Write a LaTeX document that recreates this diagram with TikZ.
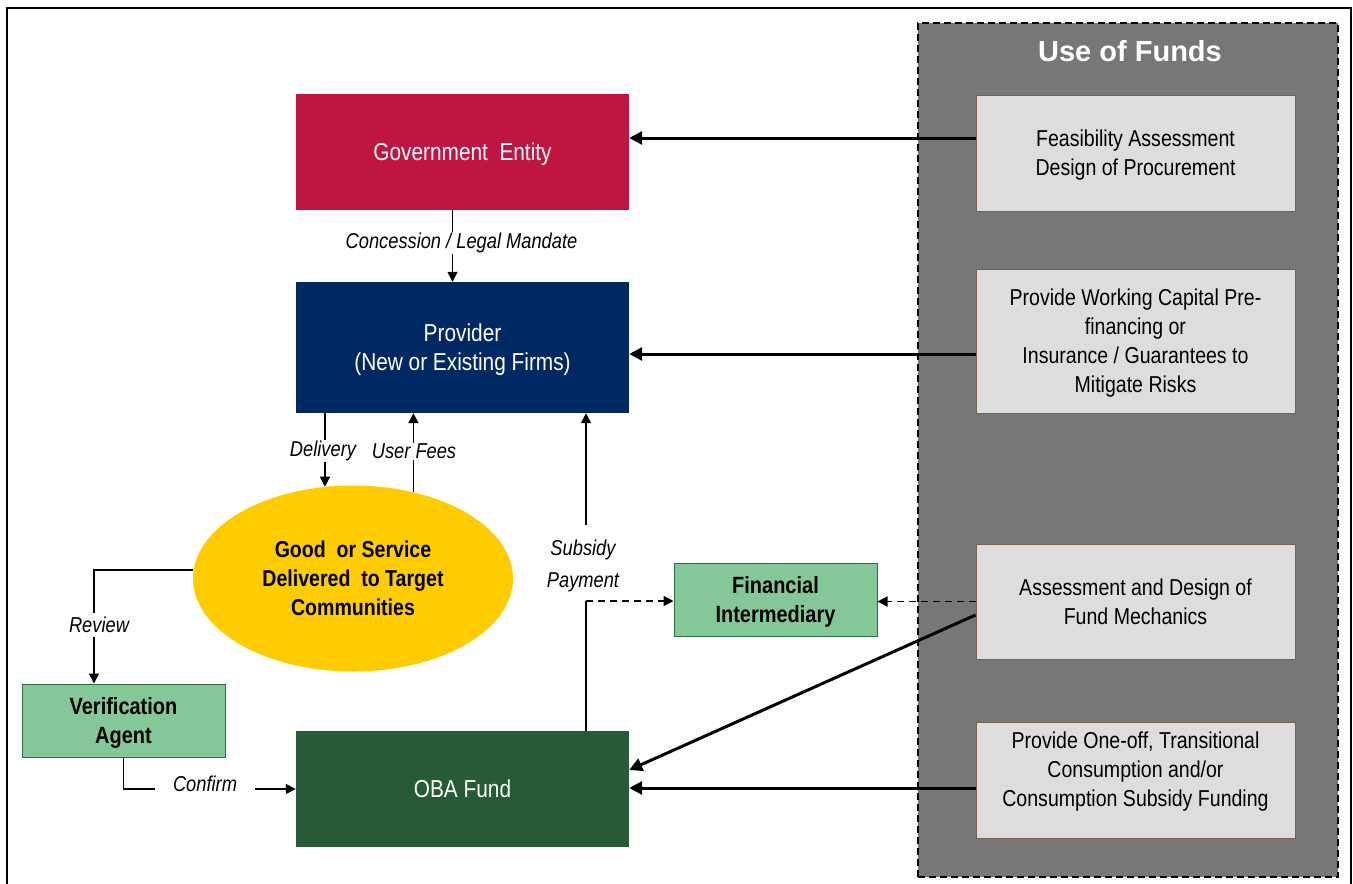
\documentclass[tikz,border=0pt]{standalone}
\usepackage{fontspec}
\setmainfont{Liberation Sans}[FakeStretch=0.85]
\newfontfamily\titlefont{Liberation Sans}
\usetikzlibrary{arrows.meta,shapes.geometric}
\definecolor{govred}{HTML}{BE1640}
\definecolor{navy}{HTML}{002863}
\definecolor{obagreen}{HTML}{275A37}
\definecolor{gold}{HTML}{FFCC00}
\definecolor{lgreen}{HTML}{84C899}
\definecolor{lgreenb}{HTML}{2E6B40}
\definecolor{panelgray}{HTML}{777777}
\definecolor{boxgray}{HTML}{DDDDDD}
\definecolor{boxedge}{HTML}{736445}
\tikzset{
  solidbox/.style={font=\fontsize{24.5}{29}\selectfont, text=white, inner sep=0pt, align=center, minimum width=333pt, text depth=0pt},
  gbox/.style={font=\bfseries\fontsize{23.5}{29}\selectfont, draw=lgreenb, line width=1pt, fill=lgreen, inner sep=0pt, align=center, minimum width=203pt, minimum height=73pt, text depth=0pt},
  fbox/.style={font=\fontsize{23}{29}\selectfont, draw=boxedge, line width=1pt, fill=boxgray, inner sep=0pt, align=center, minimum width=319pt, text depth=0pt},
  lbl/.style={font=\itshape\fontsize{21.5}{32}\selectfont, fill=white, inner sep=1pt, align=center},
  longdash/.style={dash pattern=on 7pt off 5pt},
  thin/.style={line width=1.5pt, -{Triangle[length=10pt,width=10pt]}},
  thickarr/.style={line width=3pt, -{Triangle[length=13pt,width=13pt]}},
}
\begin{document}
\begin{tikzpicture}[x=1pt,y=-1pt]
\useasboundingbox (0,0) rectangle (1353,884);
\fill[white] (0,0) rectangle (1353,884);
% outer frame
\draw[line width=2pt] (7,884) -- (7,8) -- (1351,8) -- (1351,884);
% panel
\node[draw=black, dash pattern=on 7pt off 4pt, line width=1.5pt, fill=panelgray, minimum width=420pt, minimum height=854pt, inner sep=0pt] (panel) at (1128,450) {};
\node[font=\titlefont\bfseries\fontsize{29}{32}\selectfont, text=white] (title) at (1130,51) {Use of Funds};
\node[fbox, minimum height=116pt] (f1) at (1135.5,153) {Feasibility Assessment\\Design of Procurement};
\node[fbox, minimum height=144pt] (f2) at (1135.5,341) {Provide Working Capital Pre-\\financing or\\Insurance / Guarantees to\\Mitigate Risks};
\node[fbox, minimum height=115pt] (f3) at (1135.5,601.5) {Assessment and Design of\\Fund Mechanics};
\node[fbox, minimum height=116pt, text depth=22pt] (f4) at (1135.5,780) {Provide One-off, Transitional\\Consumption and/or\\Consumption Subsidy Funding};
% main boxes
\node[solidbox, fill=govred, minimum height=116pt] (gov) at (462.5,152) {Government\ \ Entity};
\node[solidbox, fill=navy, minimum height=131pt] (prov) at (462.5,347.5) {Provider\\(New or Existing Firms)};
\node[solidbox, fill=obagreen, minimum height=116pt] (oba) at (462.5,789) {OBA Fund};
\node[ellipse, fill=gold, minimum width=320pt, minimum height=186pt, inner sep=0pt, align=center, text depth=0pt, font=\bfseries\fontsize{23}{29}\selectfont] (good) at (353,578.5) {Good\ \ or Service\\Delivered\ \ to Target\\Communities};
\node[gbox] (va) at (123.5,720.5) {Verification\\Agent};
\node[gbox] (fi) at (775.5,599.5) {Financial\\Intermediary};
% thick arrows from panel
\draw[thickarr] ([yshift=15pt]f1.west) -- ([yshift=15pt]f1.west -| gov.east);
\draw[thickarr] ([yshift=-13pt]f2.west) -- ([yshift=-13pt]f2.west -| prov.east);
\draw[thickarr] ([yshift=-13.5pt]f3.west) -- ([yshift=19pt]oba.east);
\draw[thickarr] ([yshift=-8pt]f4.west) -- ([yshift=-8pt]f4.west -| oba.east);
\draw[thin, longdash] (f3.west) -- (f3.west -| fi.east);
% subsidy payment
\coordinate (sc) at (586,601);
\coordinate (st) at (586,525);
\draw[line width=1.5pt] (oba.north -| sc) -- (sc);
\draw[thin, longdash] (sc) -- (sc -| fi.west);
\draw[thin] (st) -- (st |- prov.south);
\node[lbl, fill=none] (subl) at (583,566) {Subsidy\\Payment};
% government to provider
\draw[thin] ([xshift=-10pt]gov.south) -- ([xshift=-10pt]prov.north);
\node[lbl] (conc) at (461.5,243) {Concession / Legal Mandate};
% delivery and user fees
\draw[thin] (good.107 |- prov.south) -- (good.107);
\node[lbl] (deliv) at (323,451) {Delivery};
\draw[thin] (good.55) -- (good.55 |- prov.south);
\node[lbl] (fees) at (414,451) {User Fees};
% review
\draw[thin] (good.177.5) -| ([xshift=-29.5pt]va.north);
\node[lbl, inner ysep=4pt] (rev) at (99,625) {Review};
% confirm
\draw[thin] (va.south) |- (oba.west);
\node[lbl, inner xsep=18pt] (conf) at (205,784) {Confirm};
\end{tikzpicture}
\end{document}
